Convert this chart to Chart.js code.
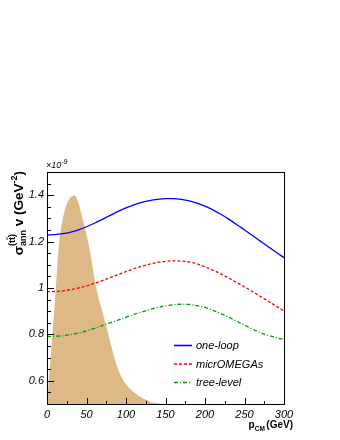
<!DOCTYPE html>
<html>
<head>
<meta charset="utf-8">
<script src="https://cdn.jsdelivr.net/npm/chart.js@4.4.1/dist/chart.umd.min.js"></script>
<style>
  html, body { margin: 0; padding: 0; background: #fff; }
</style>
</head>
<body>
<canvas id="sigma" width="340" height="440"></canvas>
<script>
const FONT = '"Liberation Sans", Arial, Helvetica, sans-serif';

// momentum grid for the cross-section curves [GeV]
const pCurve = [0, 10, 20, 30, 40, 50, 60, 70, 80, 90, 100, 110, 120, 130, 140, 150,
    160, 170, 180, 190, 200, 210, 220, 230, 240, 250, 260, 270, 280, 290, 300];

// sigma_ann v in units of 1e-9 GeV^-2
const oneLoop = [1.229, 1.230, 1.234, 1.241, 1.251, 1.264, 1.279, 1.296, 1.313, 1.330, 1.345,
    1.358, 1.369, 1.377, 1.382, 1.385, 1.385, 1.382, 1.376, 1.366, 1.353, 1.337, 1.318,
    1.297, 1.274, 1.250, 1.226, 1.202, 1.178, 1.154, 1.131];
const micrOMEGAs = [0.984, 0.985, 0.988, 0.993, 1.000, 1.009, 1.020, 1.032, 1.045, 1.058, 1.071,
    1.083, 1.094, 1.103, 1.110, 1.115, 1.117, 1.116, 1.112, 1.104, 1.091, 1.077, 1.061,
    1.043, 1.024, 1.005, 0.985, 0.964, 0.943, 0.922, 0.901];
const treeLevel = [0.791, 0.792, 0.794, 0.799, 0.806, 0.815, 0.826, 0.838, 0.850, 0.862, 0.874,
    0.886, 0.897, 0.907, 0.916, 0.923, 0.928, 0.930, 0.929, 0.924, 0.916, 0.904, 0.890,
    0.874, 0.857, 0.840, 0.823, 0.808, 0.796, 0.786, 0.778];

// momentum distribution (shaded, drawn on the same y axis)
const pDist = [0, 5, 10, 15, 20, 25, 30, 35, 40, 45, 50, 55, 60, 65, 70, 75, 80, 85, 90, 95,
    100, 105, 110, 115, 120, 125, 130, 135, 140, 145, 150];
const distValues = [0.500, 0.715, 0.940, 1.180, 1.297, 1.361, 1.391, 1.399, 1.364, 1.297,
    1.229, 1.145, 1.043, 0.960, 0.899, 0.836, 0.768, 0.703, 0.650, 0.611, 0.585, 0.566,
    0.551, 0.538, 0.527, 0.518, 0.511, 0.506, 0.503, 0.501, 0.500];

const xTicks = [0, 50, 100, 150, 200, 250, 300];
const yTicks = [0.6, 0.8, 1, 1.2, 1.4];
const yTickLabels = ['0.6', '0.8', '1', '1.2', '1.4'];

const seriesLabels = ['one-loop', 'micrOMEGAs', 'tree-level'];


function points(xs, ys) {
    return xs.map((x, i) => ({ x: x, y: ys[i] }));
}

const lineStyle = {
    pointRadius: 0,
    borderWidth: 1.3,
    fill: false,
    cubicInterpolationMode: 'monotone'
};

const data = {
    datasets: [
        {
            ...lineStyle,
            label: seriesLabels[0],
            data: points(pCurve, oneLoop),
            borderColor: '#0000ff'
        },
        {
            ...lineStyle,
            label: seriesLabels[1],
            data: points(pCurve, micrOMEGAs),
            borderColor: '#ff0000',
            borderDash: [3, 2]
        },
        {
            ...lineStyle,
            label: seriesLabels[2],
            data: points(pCurve, treeLevel),
            borderColor: '#009900',
            borderDash: [4, 2, 1, 2]
        },
        {
            label: 'distribution',
            data: points(pDist, distValues),
            borderWidth: 0,
            pointRadius: 0,
            backgroundColor: '#deb887',
            fill: 'start',
            cubicInterpolationMode: 'monotone'
        }
    ]
};

// draws text pieces one after the other; dy shifts sub/superscripts
function drawPieces(ctx, pieces, x, y) {
    let cx = x;
    pieces.forEach((p) => {
        ctx.font = p.font;
        ctx.fillText(p.t, cx, y + (p.dy || 0));
        cx += ctx.measureText(p.t).width + (p.gap || 0);
    });
    return cx;
}

function piecesWidth(ctx, pieces) {
    let w = 0;
    pieces.forEach((p) => {
        ctx.font = p.font;
        w += ctx.measureText(p.t).width + (p.gap || 0);
    });
    return w;
}

// ROOT-like frame: closed box, ticks pointing inward, titles with sub/superscripts, legend
const rootFrame = {
    id: 'rootFrame',
    afterDraw(chart) {
        const { ctx, chartArea: a, scales: { x, y } } = chart;
        ctx.save();
        ctx.strokeStyle = '#000';
        ctx.fillStyle = '#000';
        ctx.lineWidth = 1;

        // ticks
        ctx.beginPath();
        for (let i = 0; i <= 12; i++) {
            const px = Math.round(x.getPixelForValue(i * 25)) + 0.5;
            const len = i % 2 === 0 ? 6 : 3;
            ctx.moveTo(px, a.bottom);
            ctx.lineTo(px, a.bottom - len);
        }
        for (let i = 0; i <= 20; i++) {
            const py = Math.round(y.getPixelForValue(0.5 + i * 0.05)) + 0.5;
            const len = i % 4 === 2 ? 7 : 4;
            ctx.moveTo(a.left, py);
            ctx.lineTo(a.left + len, py);
        }
        ctx.stroke();

        // frame
        ctx.strokeRect(Math.round(a.left) + 0.5, Math.round(a.top) + 0.5,
            Math.round(a.right - a.left), Math.round(a.bottom - a.top));

        // exponent label
        ctx.textBaseline = 'alphabetic';
        ctx.textAlign = 'left';
        drawPieces(ctx, [
            { t: '\u00d710', font: `italic 9px ${FONT}` },
            { t: '-9', font: `italic 7px ${FONT}`, dy: -4 }
        ], a.left - 1, a.top - 4);

        // x title
        const xt = [
            { t: 'p', font: `bold 10px ${FONT}` },
            { t: 'CM', font: `bold 6.5px ${FONT}`, dy: 3, gap: 1.5 },
            { t: '(GeV)', font: `bold 10px ${FONT}` }
        ];
        drawPieces(ctx, xt, 293 - piecesWidth(ctx, xt), 428);

        // y title, rotated
        ctx.save();
        ctx.translate(23, a.top - 1);
        ctx.rotate(-Math.PI / 2);
        const big = `bold 13.5px ${FONT}`;
        const small = `bold 9px ${FONT}`;
        ctx.font = small;
        const wSub = ctx.measureText('ann').width;
        const wSup = ctx.measureText('(tt)').width;
        const wGroup = Math.max(wSub, wSup);
        const tail = [
            { t: ' v (GeV', font: big },
            { t: '-2', font: small, dy: -6 },
            { t: ')', font: big }
        ];
        ctx.font = big;
        const wSigma = ctx.measureText('\u03c3').width;
        const total = wSigma + wGroup + piecesWidth(ctx, tail);
        let cx = -total;
        ctx.font = big;
        ctx.fillText('\u03c3', cx, 0);
        cx += wSigma;
        ctx.font = small;
        ctx.fillText('ann', cx, 3);
        ctx.fillText('(tt)', cx, -8);
        const wOpen = ctx.measureText('(t').width;
        const wT = ctx.measureText('t').width;
        ctx.lineWidth = 0.8;
        ctx.beginPath();
        ctx.moveTo(cx + wOpen, -16);
        ctx.lineTo(cx + wOpen + wT, -16);
        ctx.stroke();
        cx += wGroup;
        drawPieces(ctx, tail, cx, 0);
        ctx.restore();

        // legend
        const lx = a.left + 127;
        let ly = a.top + 173;
        chart.data.datasets.slice(0, 3).forEach((ds) => {
            ctx.save();
            ctx.strokeStyle = ds.borderColor;
            ctx.lineWidth = 1.6;
            ctx.setLineDash(ds.borderDash || []);
            ctx.beginPath();
            ctx.moveTo(lx, ly + 0.5);
            ctx.lineTo(lx + 18, ly + 0.5);
            ctx.stroke();
            ctx.restore();
            ctx.font = `italic 11px ${FONT}`;
            ctx.textBaseline = 'middle';
            ctx.fillText(ds.label, lx + 22, ly + 1);
            ly += 18.5;
        });
        ctx.restore();
    }
};

const tickFont = { family: FONT, size: 11, style: 'italic' };

const options = {
    responsive: false,
    animation: false,
    layout: {
        padding: { left: 0, top: 172, right: 56, bottom: 0 }
    },
    plugins: {
        legend: { display: false },
        tooltip: { enabled: false }
    },
    scales: {
        x: {
            type: 'linear',
            min: 0,
            max: 300,
            grid: { display: false, drawTicks: false },
            border: { display: false },
            afterBuildTicks: (scale) => { scale.ticks = xTicks.map(v => ({ value: v })); },
            afterFit: (scale) => { scale.height = 36; },
            ticks: {
                font: tickFont,
                color: '#000',
                padding: 4,
                maxRotation: 0,
                autoSkip: false,
                callback: (v) => String(v)
            }
        },
        y: {
            type: 'linear',
            min: 0.5,
            max: 1.5,
            grid: { display: false, drawTicks: false },
            border: { display: false },
            afterBuildTicks: (scale) => { scale.ticks = yTicks.map(v => ({ value: v })); },
            afterFit: (scale) => { scale.width = 47; },
            ticks: {
                font: tickFont,
                color: '#000',
                padding: 3,
                autoSkip: false,
                callback: (v, i) => yTickLabels[i]
            }
        }
    }
};

const sigmaElement = document.getElementById('sigma');

if (sigmaElement) {
    const sigma = new Chart(sigmaElement, {
        type: 'line',
        data: data,
        options: options,
        plugins: [rootFrame]
    });
}
</script>
</body>
</html>
